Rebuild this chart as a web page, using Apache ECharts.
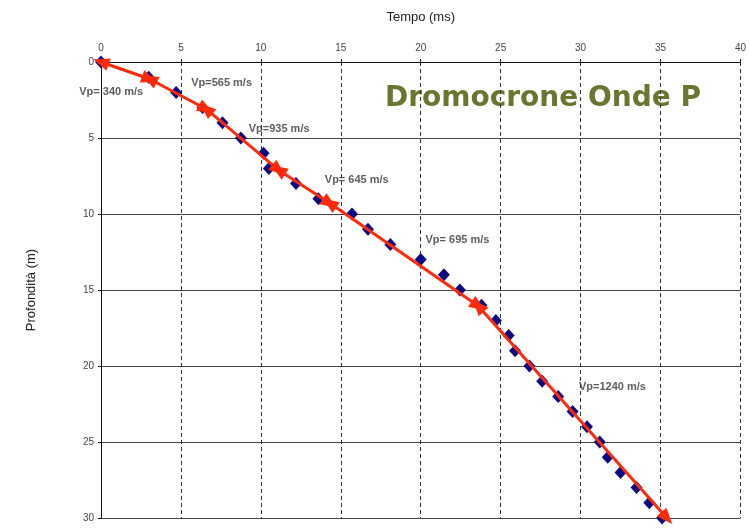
<!DOCTYPE html>
<html>
<head>
<meta charset="utf-8">
<script src="https://cdn.jsdelivr.net/npm/echarts@6/dist/echarts.min.js"></script>
<style>
html,body{margin:0;padding:0;background:#fff;}
#chart{width:749px;height:532px;}
</style>
</head>
<body>
<div id="chart"></div>
<script>
// Measured points: depth (m) and travel time (ms)
var depth = [0,1,2,3,4,5,6,7,8,9,10,11,12,13,14,15,16,17,18,19,20,21,22,23,24,25,26,27,28,29,30];
var tempo = [0,2.98,4.7,6.35,7.6,8.75,10.17,10.5,12.2,13.6,15.7,16.7,18.1,20.0,21.45,22.45,23.8,24.7,25.5,25.9,26.8,27.6,28.6,29.5,30.4,31.2,31.7,32.5,33.5,34.3,35.1];

// Velocity segments (start/end in [tempo, depth])
var segStart = [[0,0],[3.04,1.12],[6.57,3.09],[11.1,7.1],[14.3,9.28],[23.6,16.05]];
var segEnd   = [[3.04,1.12],[6.57,3.09],[11.1,7.1],[14.3,9.28],[23.6,16.05],[35.4,30]];

// Velocity labels
var vpText  = ['Vp= 340 m/s','Vp=565 m/s','Vp=935 m/s','Vp= 645 m/s','Vp= 695 m/s','Vp=1240 m/s'];
var vpTempo = [-1.36, 5.64, 9.24, 14.0, 20.3, 29.9];
var vpDepth = [1.97, 1.38, 4.4, 7.76, 11.7, 21.4];

var titleText = 'Dromocrone Onde P';
var xName = 'Tempo (ms)';
var yName = 'Profondità (m)';

var points = tempo.map(function(t,i){ return [t, depth[i]]; });
var segs = segStart.map(function(s,i){ return [{coord:s},{coord:segEnd[i]}]; });
var notes = vpText.map(function(n,i){ return {name:n, value:[vpTempo[i], vpDepth[i]]}; });

var chart = echarts.init(document.getElementById('chart'));
chart.setOption({
  animation:false,
  backgroundColor:'#fff',
  textStyle:{fontFamily:'Liberation Sans, Arial, sans-serif'},
  grid:{left:101,right:3,top:62,bottom:14},
  xAxis:{
    type:'value', position:'top', min:0, max:40, interval:5,
    name:xName, nameLocation:'middle', nameGap:38,
    nameTextStyle:{fontSize:13,color:'#222'},
    axisLine:{show:true,lineStyle:{color:'#111',width:1}},
    axisTick:{show:true,inside:false,length:3,lineStyle:{color:'#111'}},
    axisLabel:{fontSize:10,color:'#444',margin:9},
    splitLine:{show:true,lineStyle:{color:'#333',type:[4,3],width:1}}
  },
  yAxis:{
    type:'value', inverse:true, min:0, max:30, interval:5,
    name:yName, nameLocation:'middle', nameGap:63, nameRotate:90,
    nameTextStyle:{fontSize:13,color:'#222'},
    axisLine:{show:true,lineStyle:{color:'#111',width:1}},
    axisTick:{show:true,inside:false,length:3,lineStyle:{color:'#111'}},
    axisLabel:{fontSize:10,color:'#444',margin:7},
    splitLine:{show:true,lineStyle:{color:'#444',width:1}}
  },
  graphic:[{
    type:'text', left:385, top:85,
    style:{text:titleText, font:'bold 28px "DejaVu Sans", sans-serif', fill:'#6a7630'}
  }],
  series:[
    {
      type:'scatter', data:points, symbol:'diamond', symbolSize:[12,13],
      itemStyle:{color:'#0a0a85', opacity:1}, z:2
    },
    {
      type:'scatter', data:[], z:3, clip:false,
      markLine:{
        silent:true, symbol:['triangle','triangle'], symbolSize:[13,16],
        label:{show:false},
        lineStyle:{color:'#ff2a0a',width:3,type:'solid'},
        data:segs
      }
    },
    {
      type:'scatter', data:notes, symbolSize:0, clip:false, z:4,
      label:{show:true, position:'right', distance:0, formatter:'{b}',
        fontSize:11, fontWeight:'bold', color:'#333'}
    }
  ]
});
</script>
</body>
</html>
